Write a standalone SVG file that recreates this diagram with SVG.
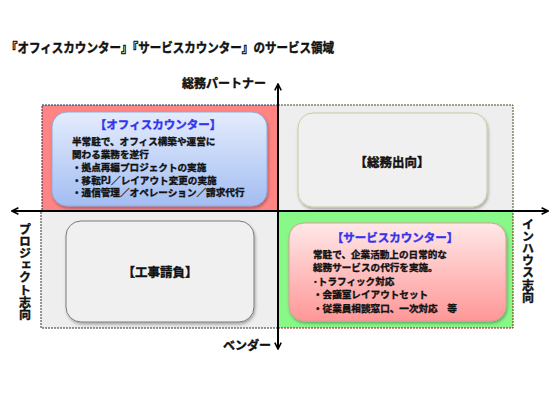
<svg xmlns="http://www.w3.org/2000/svg" width="560" height="420" viewBox="0 0 560 420">
<style>
text{font-family:"Noto Sans CJK JP","Noto Sans CJK SC",sans-serif;font-weight:bold;fill:#111;stroke:#111;stroke-width:0.35}
.t{font-size:13px;stroke-width:0.45}
.lab{font-size:12px;stroke-width:0.4}
.v{font-size:12px;stroke-width:0.4;writing-mode:vertical-rl;letter-spacing:0.2px}
.body{font-size:9.6px}
.head{font-size:11.5px;fill:#3333ee;stroke:#3333ee;stroke-width:0.4}
.mid{font-size:12.5px;stroke-width:0.4}
.axis{stroke:#000;stroke-width:2;fill:none}
</style>
<defs>
<marker id="ah" viewBox="0 0 10 10" refX="9" refY="5" markerWidth="4" markerHeight="4" orient="auto" markerUnits="strokeWidth">
<path d="M1,1 L9,5 L1,9" fill="none" stroke="#000" stroke-width="2"/>
</marker>
<linearGradient id="gb" x1="0" y1="0" x2="0" y2="1">
<stop offset="0" stop-color="#e4ecfc"/><stop offset="1" stop-color="#a3bdf2"/>
</linearGradient>
<linearGradient id="gr" x1="0" y1="0" x2="0" y2="1">
<stop offset="0" stop-color="#ffe8e8"/><stop offset="1" stop-color="#ff9797"/>
</linearGradient>
<filter id="sh" x="-10%" y="-10%" width="120%" height="130%">
<feDropShadow dx="1" dy="2" stdDeviation="1.5" flood-color="#000" flood-opacity="0.3"/>
</filter>
</defs>
<text class="t" x="6" y="52" textLength="328" lengthAdjust="spacingAndGlyphs">『オフィスカウンター』『サービスカウンター』のサービス領域</text>
<g id="quadrants">
<rect x="42" y="105" width="236" height="106" fill="#ff8484" stroke="#1f2f5a" stroke-width="1" stroke-dasharray="2,1"/>
<rect x="278" y="105" width="235" height="106" fill="#eeeeee" stroke="#4a4a20" stroke-width="1" stroke-dasharray="2,1"/>
<rect x="41" y="211" width="237" height="117" fill="#eeeeee" stroke="#333" stroke-width="1" stroke-dasharray="2,1"/>
<rect x="278" y="211" width="235" height="117" fill="#88f888" stroke="#8b1a1a" stroke-width="1" stroke-dasharray="2,1"/>
</g>
<g id="connectors">
<line class="axis" x1="278" y1="211" x2="12" y2="211" marker-end="url(#ah)"/>
<line class="axis" x1="278" y1="211" x2="548" y2="211" marker-end="url(#ah)"/>
<line class="axis" x1="278" y1="211" x2="278" y2="84" marker-end="url(#ah)"/>
<line class="axis" x1="278" y1="211" x2="278" y2="349" marker-end="url(#ah)"/>
</g>
<g id="office">
<rect x="52" y="112" width="215" height="94" rx="15" fill="url(#gb)" stroke="#8ea9dd" stroke-width="1" filter="url(#sh)"/>
<text class="head" x="158" y="129.4" text-anchor="middle">【オフィスカウンター】</text>
<text class="body"><tspan x="72" y="145">半常駐で、オフィス構築や運営に</tspan><tspan x="72" y="157.8">関わる業務を遂行</tspan><tspan x="72" y="171">・拠点再編プロジェクトの実施</tspan><tspan x="72" y="183.7">・移転PJ／レイアウト変更の実施</tspan><tspan x="72" y="196.4">・通信管理／オペレーション／請求代行</tspan></text>
</g>
<g id="soumu">
<rect x="298" y="113" width="189" height="94" rx="15" fill="#f0f0f0" stroke="#c3cf9f" stroke-width="1" filter="url(#sh)"/>
<text class="mid" x="392" y="166.8" text-anchor="middle">【総務出向】</text>
</g>
<g id="kouji">
<rect x="66" y="221" width="188" height="101" rx="15" fill="#f0f0f0" stroke="#7a7a7a" stroke-width="1" filter="url(#sh)"/>
<text class="mid" x="160" y="276.8" text-anchor="middle">【工事請負】</text>
</g>
<g id="service">
<rect x="289" y="223" width="217" height="98" rx="15" fill="url(#gr)" stroke="#dd9a9a" stroke-width="1" filter="url(#sh)"/>
<text class="head" x="395" y="242.4" text-anchor="middle">【サービスカウンター】</text>
<text class="body"><tspan x="313" y="257.8">常駐で、企業活動上の日常的な</tspan><tspan x="313" y="270.6">総務サービスの代行を実施。</tspan><tspan x="313" y="284.6">･トラフィック対応</tspan><tspan x="313" y="298.1">・会議室レイアウトセット</tspan><tspan x="313" y="311.6">・従業員相談窓口、一次対応　等</tspan></text>
</g>
<g id="labels">
<text class="lab" x="182" y="87.5">総務パートナー</text>
<text class="lab" x="223" y="349.5">ベンダー</text>
<text class="v" x="25" y="223">プロジェクト志向</text>
<text class="v" x="528" y="218">インハウス志向</text>
</g>
</svg>
